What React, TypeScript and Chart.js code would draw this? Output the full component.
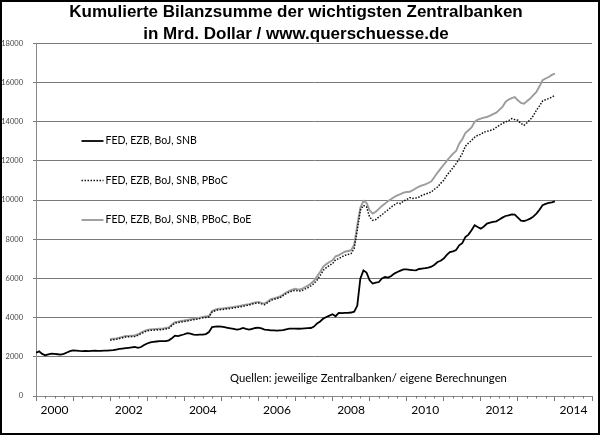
import React, { useEffect, useRef } from "react";
import { Chart, registerables } from "chart.js";

Chart.register(...registerables);

// ---- Data ----
// Monthly observations, Jan 2000 .. Jan 2014, values in bn USD
const firstYear = 2000;
const lastYear = 2014;
const yearLabels = ["2000", "2002", "2004", "2006", "2008", "2010", "2012", "2014"];
const yTickValues = [0, 2000, 4000, 6000, 8000, 10000, 12000, 14000, 16000, 18000];

const seriesNames = [
  "FED, EZB, BoJ, SNB",
  "FED, EZB, BoJ, SNB, PBoC",
  "FED, EZB, BoJ, SNB, PBoC, BoE",
];

// FED, EZB, BoJ, SNB – starts 2000-01
const coreStart = "2000-01";
const coreValues = [
  2210, 2280, 2150, 2080, 2120, 2160, 2150, 2130, 2110, 2150, 2220, 2290,
  2330, 2320, 2300, 2290, 2300, 2290, 2300, 2310, 2300, 2300, 2310, 2320,
  2330, 2340, 2370, 2400, 2420, 2440, 2460, 2480, 2500, 2460, 2500, 2600,
  2680, 2740, 2760, 2780, 2800, 2800, 2800, 2840, 2950, 3080, 3060, 3100,
  3150, 3210, 3180, 3130, 3120, 3130, 3130, 3160, 3265, 3520, 3540, 3556,
  3540, 3510, 3480, 3450, 3420, 3390, 3410, 3470, 3420, 3390, 3430, 3470,
  3490, 3450, 3390, 3370, 3350, 3350, 3340, 3350, 3360, 3400, 3440, 3440,
  3440, 3430, 3440, 3450, 3460, 3470, 3540, 3700, 3800, 3950, 4030, 4100,
  4170, 4070, 4240, 4230, 4240, 4240, 4260, 4300, 4600, 5990, 6410, 6300,
  5900, 5735, 5780, 5816, 6000, 6070, 6040, 6120, 6245, 6327, 6400, 6464,
  6460, 6440, 6420, 6413, 6480, 6500, 6520, 6550, 6600, 6700, 6837, 6900,
  7010, 7200, 7347, 7380, 7450, 7689, 7800, 8112, 8235, 8454, 8709, 8620,
  8540, 8650, 8796, 8850, 8880, 8913, 9000, 9100, 9184, 9220, 9270, 9250,
  9100, 8950, 8928, 8980, 9050, 9150, 9306, 9500, 9730, 9800, 9850, 9880,
  9930,
];

// + PBoC – starts 2002-01
const pbocStart = "2002-01";
const pbocValues = [
  2850, 2870, 2890, 2930, 2970, 3010, 3020, 3030, 3040, 3100, 3180, 3260,
  3320, 3350, 3360, 3370, 3380, 3390, 3420, 3450, 3600, 3720, 3745, 3776,
  3800, 3830, 3860, 3890, 3913, 3950, 3990, 4010, 4031, 4287, 4350, 4400,
  4408, 4430, 4450, 4470, 4490, 4520, 4550, 4580, 4610, 4640, 4690, 4730,
  4745, 4700, 4660, 4760, 4883, 4930, 4970, 5020, 5120, 5224, 5300, 5360,
  5393, 5350, 5370, 5450, 5520, 5620, 5735, 5920, 6150, 6413, 6550, 6668,
  6750, 6959, 7000, 7100, 7179, 7220, 7265, 7520, 8454, 9474, 9730, 9650,
  9133, 8964, 9000, 9133, 9250, 9388, 9500, 9643, 9750, 9850, 9816, 9950,
  10020, 10122, 10080, 10100, 10153, 10240, 10300, 10350, 10408, 10550, 10663, 10850,
  11000, 11260, 11450, 11650, 11857, 12100, 12367, 12740, 12900, 13046, 13200, 13301,
  13350, 13469, 13500, 13550, 13592, 13700, 13811, 13900, 13980, 14050, 14153, 14100,
  14066, 13900, 13811, 13950, 14100, 14300, 14577, 14800, 15051, 15120, 15173, 15250,
  15341,
];

// + PBoC + BoE – starts 2002-01
const boeStart = "2002-01";
const boeValues = [
  2900, 2920, 2940, 2980, 3020, 3060, 3070, 3080, 3090, 3150, 3230, 3310,
  3370, 3400, 3410, 3420, 3430, 3440, 3470, 3500, 3650, 3770, 3795, 3826,
  3850, 3880, 3910, 3940, 3963, 4000, 4040, 4060, 4081, 4337, 4400, 4450,
  4460, 4480, 4500, 4520, 4540, 4570, 4600, 4630, 4660, 4690, 4740, 4780,
  4800, 4755, 4715, 4815, 4940, 4985, 5025, 5075, 5175, 5280, 5360, 5420,
  5470, 5430, 5460, 5550, 5630, 5740, 5880, 6107, 6340, 6600, 6730, 6837,
  6920, 7130, 7180, 7280, 7360, 7400, 7434, 7700, 8700, 9600, 9950, 9850,
  9474, 9306, 9400, 9550, 9700, 9816, 9950, 10050, 10153, 10240, 10300, 10380,
  10408, 10420, 10500, 10600, 10680, 10750, 10800, 10867, 10950, 11173, 11400, 11600,
  11800, 12000, 12194, 12367, 12500, 12877, 13100, 13418, 13556, 13700, 13980, 14100,
  14153, 14200, 14235, 14300, 14380, 14459, 14600, 14745, 15000, 15122, 15200, 15255,
  15087, 14950, 14918, 15050, 15173, 15350, 15510, 15800, 16107, 16200, 16276, 16380,
  16449,
];

const titleLines = [
  "Kumulierte Bilanzsumme der wichtigsten Zentralbanken",
  "in Mrd. Dollar / www.querschuesse.de",
];
const sourceNote = "Quellen: jeweilige Zentralbanken/ eigene Berechnungen";

// ---- helpers ----
function monthToYear(label: string): number {
  const [y, m] = label.split("-").map(Number);
  return y + (m - 1) / 12;
}
function toPoints(start: string, values: number[]) {
  const s = monthToYear(start);
  return values.map((v, i) => ({ x: s + i / 12, y: v }));
}

const framePlugin = {
  id: "frame",
  beforeDraw(chart: any) {
    const { ctx, width, height } = chart;
    ctx.save();
    ctx.fillStyle = "#ffffff";
    ctx.fillRect(0, 0, width, height);
    ctx.restore();
  },
  afterDraw(chart: any) {
    const { ctx, width, height } = chart;
    ctx.save();
    ctx.strokeStyle = "#000000";
    ctx.lineWidth = 2;
    ctx.strokeRect(1, 1, width - 2, height - 2);
    ctx.restore();
  },
};

const minorTickPlugin = {
  id: "minorTicks",
  afterDraw(chart: any) {
    const scale = chart.scales.x;
    const { ctx } = chart;
    const bottom = chart.chartArea.bottom;
    ctx.save();
    ctx.strokeStyle = "#777777";
    ctx.lineWidth = 1;
    for (let y = firstYear; y < lastYear + 1; y++) {
      for (let q = 1; q < 4; q++) {
        const px = Math.round(scale.getPixelForValue(y + q / 4)) + 0.5;
        ctx.beginPath();
        ctx.moveTo(px, bottom);
        ctx.lineTo(px, bottom + 2.5);
        ctx.stroke();
      }
    }
    ctx.restore();
  },
};

const insideLegendPlugin = {
  id: "insideLegend",
  afterDatasetsDraw(chart: any) {
    const { ctx } = chart;
    chart.data.datasets.forEach((ds: any, i: number) => {
      const y = 141 + i * 39.5;
      ctx.save();
      ctx.strokeStyle = ds.borderColor;
      ctx.lineWidth = ds.borderWidth;
      ctx.setLineDash(ds.borderDash || []);
      ctx.beginPath();
      ctx.moveTo(81.5, y);
      ctx.lineTo(103.5, y);
      ctx.stroke();
      ctx.setLineDash([]);
      ctx.fillStyle = "#000000";
      ctx.font = "10.5px Lato";
      ctx.textBaseline = "middle";
      ctx.textAlign = "left";
      ctx.fillText(ds.label, 105.5, y);
      ctx.restore();
    });
  },
};

const notePlugin = {
  id: "sourceNote",
  afterDatasetsDraw(chart: any) {
    const { ctx } = chart;
    ctx.save();
    ctx.fillStyle = "#000000";
    ctx.font = "11.3px Lato";
    ctx.textBaseline = "middle";
    ctx.textAlign = "left";
    ctx.fillText(sourceNote, 230, 378);
    ctx.restore();
  },
};

export default function App() {
  const canvasRef = useRef<HTMLCanvasElement | null>(null);

  useEffect(() => {
    document.body.style.margin = "0";
    const canvas = canvasRef.current;
    if (!canvas) return;

    const chart = new Chart(canvas, {
      type: "line",
      data: {
        datasets: [
          {
            label: seriesNames[0],
            data: toPoints(coreStart, coreValues),
            borderColor: "#000000",
            borderWidth: 1.8,
            pointRadius: 0,
            tension: 0,
          },
          {
            label: seriesNames[1],
            data: toPoints(pbocStart, pbocValues),
            borderColor: "#111111",
            borderWidth: 1.5,
            borderDash: [1.5, 1.5],
            pointRadius: 0,
            tension: 0,
          },
          {
            label: seriesNames[2],
            data: toPoints(boeStart, boeValues),
            borderColor: "#9c9c9c",
            borderWidth: 1.9,
            pointRadius: 0,
            tension: 0,
          },
        ],
      },
      options: {
        animation: false,
        responsive: false,
        maintainAspectRatio: false,
        layout: { padding: { left: 0, right: 8, top: 0, bottom: 0 } },
        plugins: {
          legend: { display: false },
          tooltip: { enabled: false },
          title: {
            display: true,
            text: titleLines,
            color: "#000000",
            font: { family: "'Liberation Sans', Arial, sans-serif", size: 17, weight: "bold", lineHeight: 1.3 },
            padding: { top: 1, bottom: -2 },
          },
        },
        scales: {
          x: {
            type: "linear",
            min: firstYear,
            max: lastYear + 1,
            afterBuildTicks: (scale: any) => {
              const ticks: { value: number }[] = [];
              for (let v = firstYear; v <= lastYear + 1 + 1e-9; v += 0.5) ticks.push({ value: v });
              scale.ticks = ticks;
            },
            afterFit: (scale: any) => {
              scale.height = 39;
            },
            ticks: {
              autoSkip: false,
              maxRotation: 0,
              minRotation: 0,
              padding: 2,
              color: "#000000",
              font: { family: "Lato", size: 12 },
              callback: (value: any) => {
                const v = Number(value);
                if (Math.abs(v - Math.floor(v) - 0.5) < 1e-6) {
                  const lbl = String(Math.floor(v));
                  return yearLabels.includes(lbl) ? lbl : "";
                }
                return "";
              },
            },
            grid: {
              drawOnChartArea: false,
              drawTicks: true,
              tickLength: 5,
              tickColor: (ctx: any) => {
                const v = ctx.tick ? ctx.tick.value : 0;
                return Number.isInteger(v) ? "#777777" : "rgba(0,0,0,0)";
              },
            },
            border: { display: true, color: "#8a8a8a", width: 1 },
          },
          y: {
            type: "linear",
            min: 0,
            max: 18000,
            afterBuildTicks: (scale: any) => {
              scale.ticks = yTickValues.map((v) => ({ value: v }));
            },
            afterFit: (scale: any) => {
              scale.width = 36;
            },
            ticks: {
              padding: 10,
              color: "#444444",
              font: { family: "Lato", size: 7.5 },
              callback: (value: any) => String(value),
            },
            grid: {
              color: "#7a7a7a",
              lineWidth: 1,
              tickLength: 3,
              tickColor: "#7a7a7a",
            },
            border: { display: true, color: "#8a8a8a", width: 1 },
          },
        },
      },
      plugins: [framePlugin, minorTickPlugin, insideLegendPlugin, notePlugin],
    } as any);

    return () => chart.destroy();
  }, []);

  return (
    <div style={{ width: 600, height: 435 }}>
      <canvas ref={canvasRef} width={600} height={435} style={{ display: "block" }} />
    </div>
  );
}
